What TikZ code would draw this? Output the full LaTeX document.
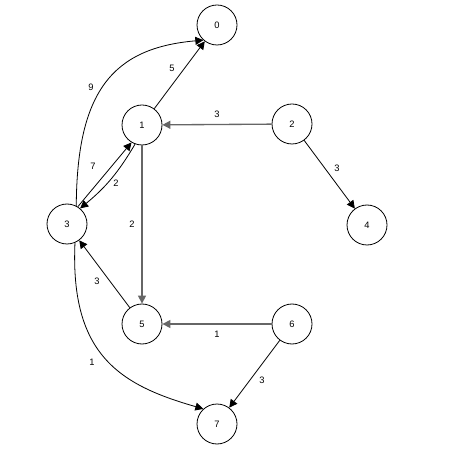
\documentclass[tikz,border=0pt]{standalone}
\usepackage{fontspec}
\setmainfont{Liberation Sans}
\usetikzlibrary{arrows.meta}
\begin{document}
\begin{tikzpicture}[x=0.75pt,y=0.75pt,
  vert/.style={circle,draw,line width=0.6pt,minimum size=30pt,inner sep=0pt,font=\fontsize{7}{8}\selectfont},
  edge/.style={draw,line width=0.6pt,-{Triangle[length=6pt,width=6pt]}},
  grayedge/.style={edge,draw=black!60,line width=1pt},
  lbl/.style={inner sep=0pt,font=\fontsize{7}{8}\selectfont}]
\useasboundingbox[fill=white] (0,0) rectangle (460,457);
\node[vert] (0) at (217,432) {0};
\node[vert] (1) at (142,332) {1};
\node[vert] (2) at (292,333) {2};
\node[vert] (3) at (67,233) {3};
\node[vert] (4) at (367,232) {4};
\node[vert] (5) at (142,133) {5};
\node[vert] (6) at (292,133) {6};
\node[vert] (7) at (217,33) {7};
\draw[edge] (1) -- (0);
\draw[grayedge] (2) -- (1);
\draw[edge] (2) -- (4);
\draw[edge] (3.63) .. controls (77,365) and (112,409) .. (0.228);
\draw[edge] (3.58) -- (1.239);
\draw[edge] (1.250) to[bend left=10] (3.50);
\draw[grayedge] (1) -- (5);
\draw[edge] (5) -- (3);
\draw[grayedge] (6) -- (5);
\draw[edge] (6) -- (7);
\draw[edge] (3.293) .. controls (70,102) and (120,72) .. (7.132);
\node[lbl] (l10) at (172,389) {5};
\node[lbl] (l21) at (217,343) {3};
\node[lbl] (l30) at (91,370) {9};
\node[lbl] (l31) at (93,291) {7};
\node[lbl] (l13) at (116,274) {2};
\node[lbl] (l15) at (132,233) {2};
\node[lbl] (l24) at (337,289) {3};
\node[lbl] (l53) at (97,176) {3};
\node[lbl] (l65) at (217,123) {1};
\node[lbl] (l37) at (92,95) {1};
\node[lbl] (l67) at (262,77) {3};
\end{tikzpicture}
\end{document}
